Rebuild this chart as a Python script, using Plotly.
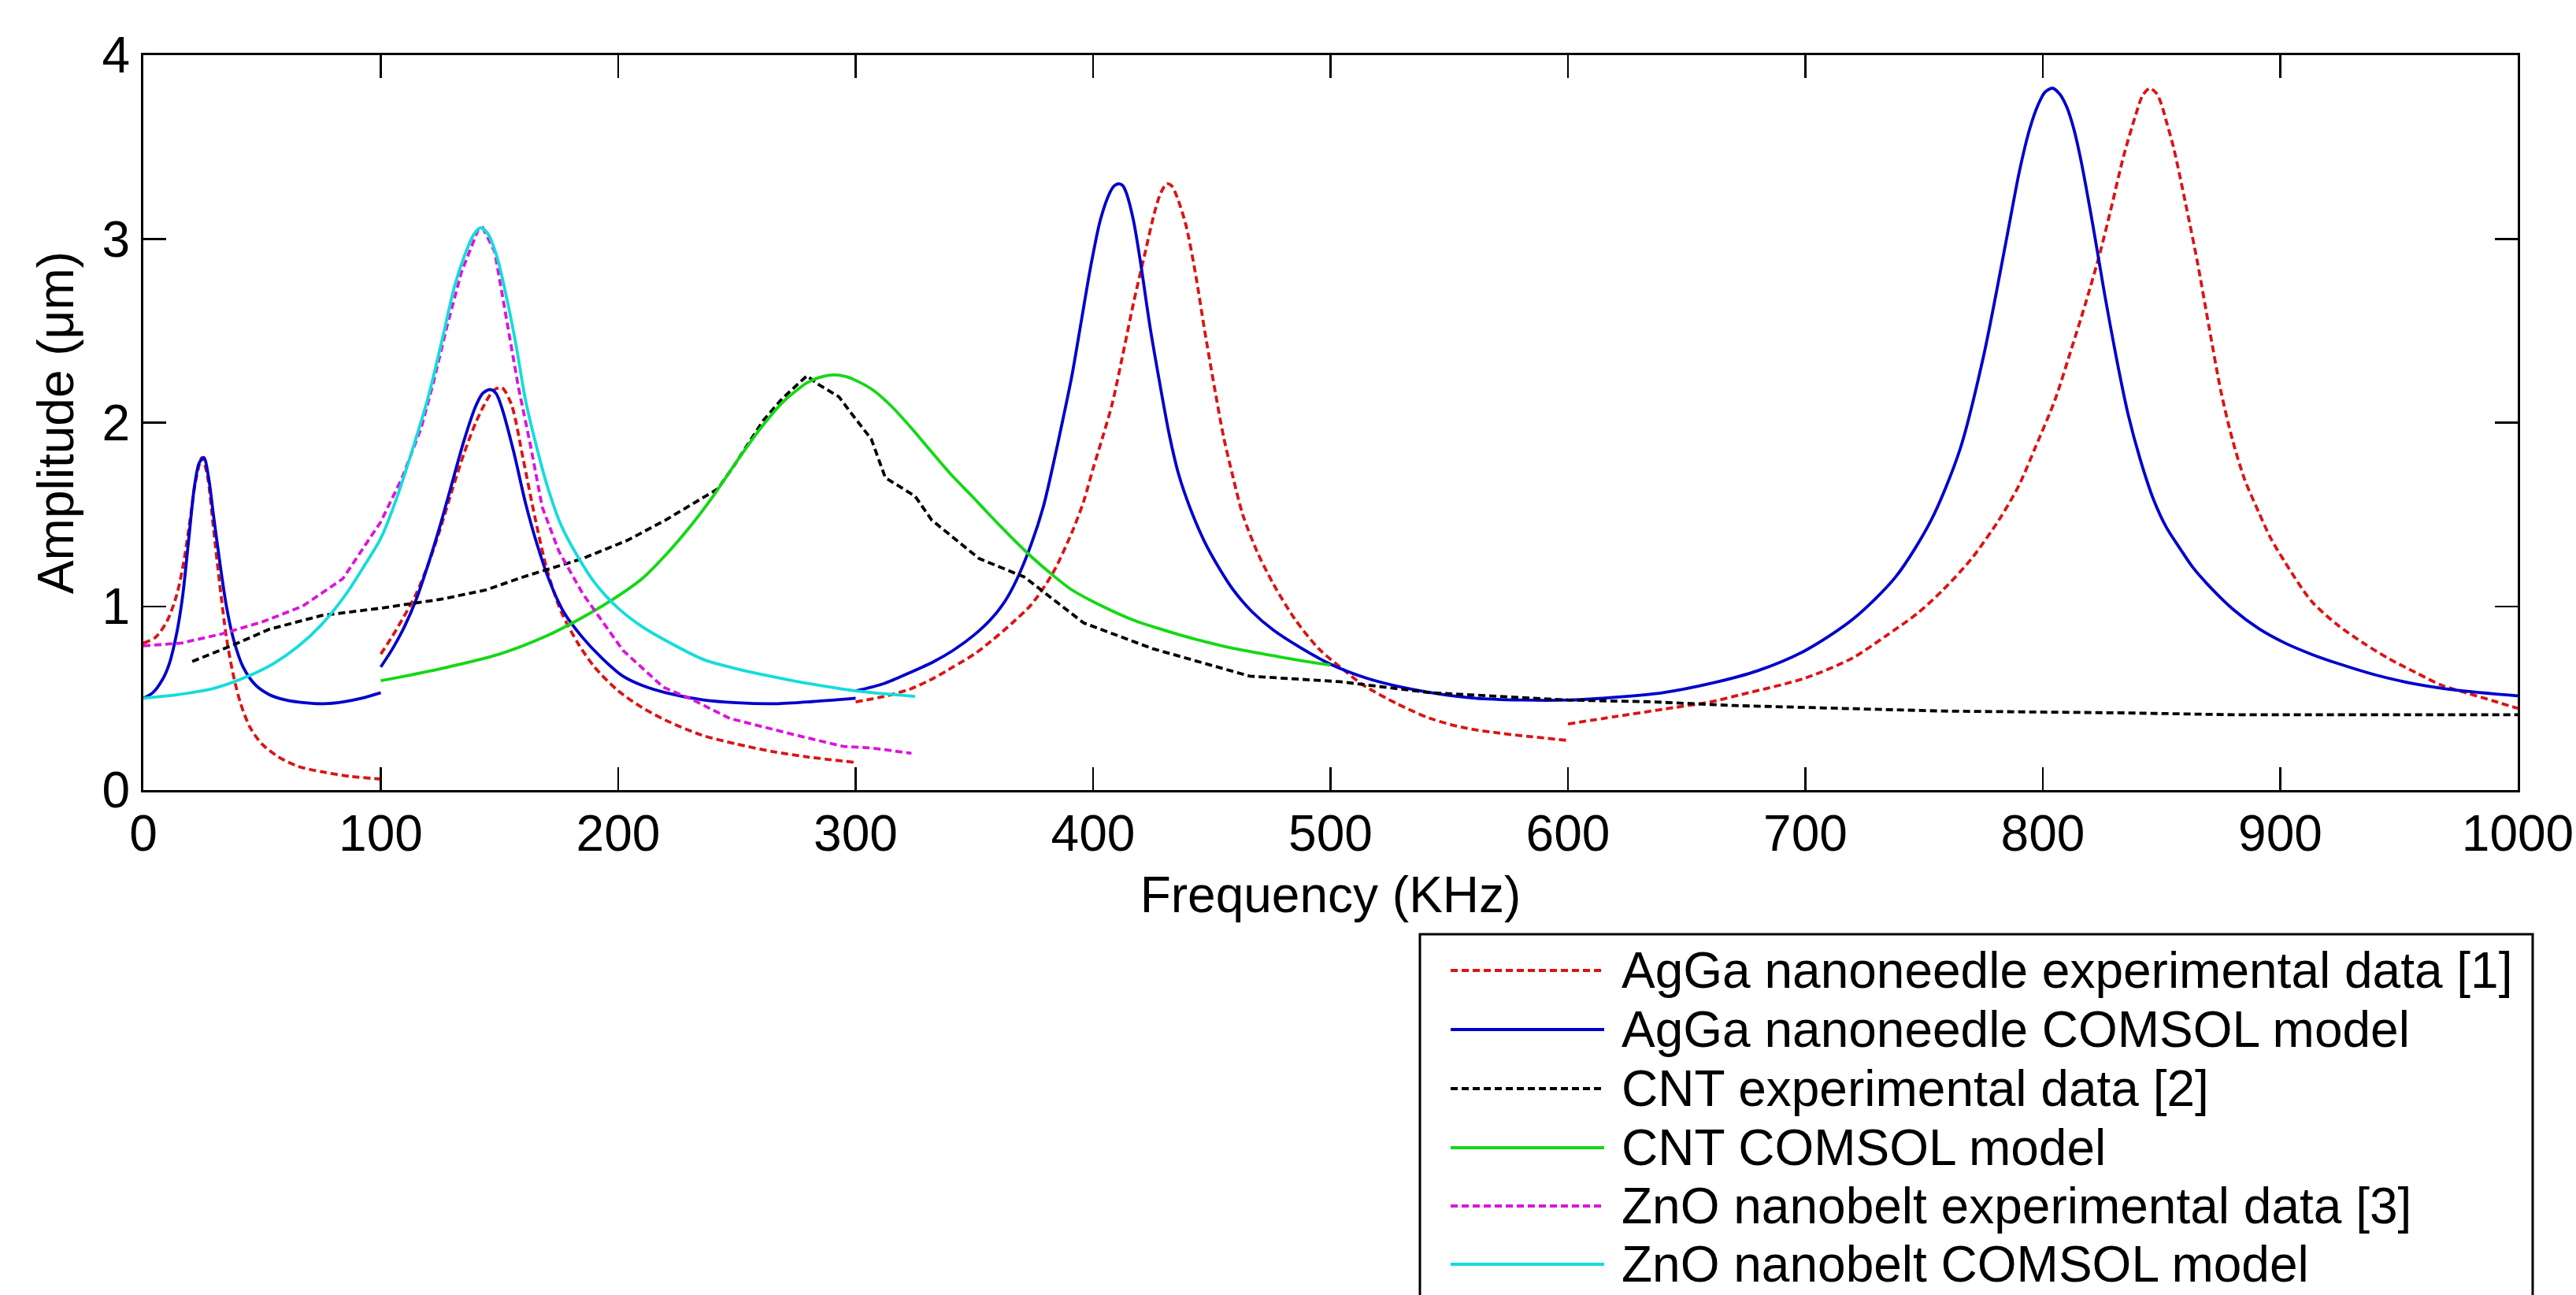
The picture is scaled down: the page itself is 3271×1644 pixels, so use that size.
import plotly.graph_objects as go

# ---------------- data ----------------
series_names = [
    "AgGa nanoneedle experimental data [1]",
    "AgGa nanoneedle COMSOL model",
    "CNT experimental data [2]",
    "CNT COMSOL model",
    "ZnO nanobelt experimental data [3]",
    "ZnO nanobelt COMSOL model",
]
series_colors = ["#dc1414", "#0000cc", "#000000", "#14d814", "#dc14dc", "#14dcdc"]
series_dash = ["9px,5px", "solid", "9px,5px", "solid", "9px,5px", "solid"]

x_ticks = [0, 100, 200, 300, 400, 500, 600, 700, 800, 900, 1000]
y_ticks = [0, 1, 2, 3, 4]

# AgGa nanoneedle experimental data (four measured segments)
agga_exp_f = [0, 5, 10, 14, 17, 20, 22, 24.7, 27, 29.5, 32, 35, 38, 41, 45, 50, 57, 65, 75, 87, 100, None,
              100, 105, 110, 115, 120, 125, 130, 135, 140, 145, 148, 151, 155, 160, 165, 170, 176, 183, 190,
              200, 210, 220, 235, 250, 265, 280, 300, None,
              300, 312, 323, 333, 341, 350, 357, 366, 374, 383, 391, 396, 400, 404, 408, 413, 417, 422, 426,
              428.5, 431, 433, 435, 439, 443, 447, 451, 455, 459, 463, 469, 476, 485, 495, 505, 514, 528, 542,
              556, 571, 585, 600, None,
              600, 620, 640, 660, 673, 700, 720, 734, 747, 758, 770, 782, 790, 797, 805, 812, 818, 824, 829,
              834, 839, 842, 845, 848, 850, 852, 855, 860, 865, 870, 875, 880, 885, 891, 896, 902, 913, 924,
              935, 946, 957, 968, 979, 990, 1000]
agga_exp_a = [0.80, 0.83, 0.92, 1.06, 1.24, 1.50, 1.68, 1.81, 1.71, 1.43, 1.14, 0.83, 0.62, 0.47, 0.34, 0.25,
              0.18, 0.13, 0.10, 0.075, 0.06, None,
              0.74, 0.84, 0.95, 1.07, 1.23, 1.42, 1.63, 1.83, 2.00, 2.13, 2.18, 2.19, 2.10, 1.80, 1.48, 1.20,
              0.97, 0.80, 0.67, 0.54, 0.45, 0.38, 0.30, 0.25, 0.21, 0.18, 0.15, None,
              0.48, 0.51, 0.55, 0.61, 0.67, 0.74, 0.81, 0.91, 1.01, 1.18, 1.40, 1.57, 1.75, 1.92, 2.10, 2.40,
              2.65, 2.93, 3.15, 3.25, 3.30, 3.29, 3.24, 3.08, 2.82, 2.50, 2.20, 1.92, 1.70, 1.50, 1.30, 1.12,
              0.93, 0.77, 0.66, 0.57, 0.47, 0.39, 0.34, 0.31, 0.29, 0.27, None,
              0.36, 0.40, 0.44, 0.48, 0.52, 0.61, 0.72, 0.84, 0.96, 1.09, 1.26, 1.48, 1.66, 1.87, 2.12, 2.40,
              2.65, 2.92, 3.18, 3.45, 3.67, 3.78, 3.82, 3.79, 3.73, 3.64, 3.50, 3.20, 2.88, 2.52, 2.17, 1.90,
              1.69, 1.51, 1.37, 1.24, 1.03, 0.90, 0.80, 0.713, 0.64, 0.57, 0.527, 0.484, 0.445]

# AgGa nanoneedle COMSOL model
agga_mod_f = [0, 4, 8, 11, 14, 16.5, 19, 21.5, 23.5, 25.5, 27.5, 29.5, 32, 35, 38, 42, 47, 53, 60, 68, 76, 84,
              92, 100, None,
              100, 105, 110, 115, 120, 125, 130, 135, 140, 143, 146, 148.5, 151, 156, 161, 166, 171, 177, 185,
              193, 202, 210, 220, 236, 250, 265, 280, 300, None,
              300, 312, 323, 333, 341, 350, 357, 363, 368, 374, 379, 383, 387, 391, 395, 399, 403, 407, 409,
              411, 412.5, 414, 417, 420, 424, 428, 432, 436, 441, 447, 453, 459, 467, 476, 488, 500, 515, 530,
              545, 561, 580, 600, 620, 640, 660, 680, 700, 720, 738, 753, 765, 775, 785, 790, 794.5, 798, 801,
              804, 807, 810, 813, 816, 821, 826, 831, 836, 841, 846.5, 852, 858, 863, 869, 880, 891, 902, 913,
              924, 940, 957, 974, 1000]
agga_mod_a = [0.50, 0.53, 0.60, 0.69, 0.85, 1.05, 1.35, 1.65, 1.78, 1.81, 1.70, 1.50, 1.26, 1.00, 0.82, 0.67,
              0.575, 0.52, 0.49, 0.475, 0.47, 0.48, 0.50, 0.53, None,
              0.67, 0.77, 0.89, 1.04, 1.23, 1.44, 1.67, 1.90, 2.09, 2.16, 2.18, 2.16, 2.08, 1.84, 1.56, 1.33,
              1.14, 0.97, 0.83, 0.72, 0.62, 0.57, 0.53, 0.49, 0.475, 0.47, 0.48, 0.50, None,
              0.54, 0.58, 0.64, 0.70, 0.76, 0.845, 0.93, 1.03, 1.15, 1.34, 1.54, 1.76, 2.00, 2.25, 2.55, 2.85,
              3.10, 3.25, 3.29, 3.30, 3.29, 3.25, 3.10, 2.87, 2.52, 2.22, 1.94, 1.72, 1.53, 1.35, 1.21, 1.09,
              0.97, 0.87, 0.77, 0.685, 0.61, 0.56, 0.525, 0.50, 0.49, 0.49, 0.505, 0.53, 0.58, 0.65, 0.76, 0.93,
              1.16, 1.47, 1.85, 2.36, 3.02, 3.36, 3.60, 3.73, 3.80, 3.82, 3.79, 3.72, 3.60, 3.43, 3.08, 2.70,
              2.35, 2.04, 1.80, 1.585, 1.43, 1.31, 1.215, 1.125, 0.985, 0.878, 0.80, 0.74, 0.69, 0.627, 0.577,
              0.544, 0.513]

# CNT experimental data
cnt_exp_f = [20.6, 37.9, 53, 75, 100, 126, 144.5, 160, 185, 204, 220, 242, 249, 261, 269, 279.5, 284, 293, 297,
             306.6, 312.5, 325, 332, 352, 371, 396, 425, 466, 504, 542, 600, 636, 670, 758, 835, 880, 1000]
cnt_exp_a = [0.70, 0.79, 0.875, 0.95, 0.99, 1.04, 1.09, 1.16, 1.26, 1.36, 1.47, 1.64, 1.77, 2.01, 2.13, 2.255,
             2.21, 2.14, 2.07, 1.91, 1.70, 1.60, 1.47, 1.26, 1.16, 0.91, 0.77, 0.62, 0.59, 0.53, 0.49, 0.48,
             0.46, 0.43, 0.42, 0.41, 0.41]

# CNT COMSOL model
cnt_mod_f = [100, 125, 150, 170, 185, 198, 210, 220, 230, 240, 250, 260, 270, 280, 286, 291, 296, 300, 307, 315,
             323.5, 332, 340, 349, 357, 366, 374, 383, 391, 404, 417, 430, 442, 456, 470, 485, 500]
cnt_mod_a = [0.595, 0.66, 0.74, 0.84, 0.94, 1.04, 1.15, 1.28, 1.43, 1.60, 1.79, 1.97, 2.12, 2.22, 2.25, 2.26,
             2.25, 2.23, 2.18, 2.09, 1.97, 1.84, 1.72, 1.60, 1.49, 1.37, 1.27, 1.17, 1.09, 1.00, 0.925, 0.87,
             0.825, 0.78, 0.745, 0.71, 0.68]

# ZnO nanobelt experimental data
zno_exp_f = [0, 16, 33, 50, 67, 84, 100, 109, 117, 122, 128, 134, 141, 143, 148, 153, 158, 163, 168, 175, 185,
             202, 219, 230, 247, 273, 295, 307, 323.5]
zno_exp_a = [0.785, 0.80, 0.85, 0.915, 1.0, 1.15, 1.46, 1.70, 1.97, 2.21, 2.53, 2.82, 3.05, 3.06, 2.93, 2.55,
             2.19, 1.88, 1.54, 1.30, 1.07, 0.76, 0.56, 0.50, 0.39, 0.305, 0.237, 0.229, 0.20]

# ZnO nanobelt COMSOL model
zno_mod_f = [0, 15, 30, 45, 55, 65, 75, 85, 93, 100, 107, 114, 120, 126, 131, 135, 139, 142, 145, 149, 153, 157,
             161, 165, 170, 176, 183, 190, 200, 210, 222, 236, 250, 264, 280, 300, 325]
zno_mod_a = [0.50, 0.52, 0.555, 0.625, 0.69, 0.78, 0.90, 1.06, 1.22, 1.37, 1.60, 1.88, 2.14, 2.46, 2.74, 2.90,
             3.02, 3.06, 3.03, 2.90, 2.68, 2.42, 2.12, 1.90, 1.66, 1.44, 1.27, 1.13, 0.99, 0.89, 0.80, 0.71,
             0.66, 0.62, 0.58, 0.54, 0.51]

series_x = [agga_exp_f, agga_mod_f, cnt_exp_f, cnt_mod_f, zno_exp_f, zno_mod_f]
series_y = [agga_exp_a, agga_mod_a, cnt_exp_a, cnt_mod_a, zno_exp_a, zno_mod_a]
series_shape = ["spline", "spline", "linear", "spline", "linear", "spline"]

# ---------------- layout geometry ----------------
W, H = 3271, 1644
ML, MR, MT, MB = 182, 74, 70, 641
PW, PH = W - ML - MR, H - MT - MB
FONT = "Arial, 'Liberation Sans', Helvetica, sans-serif"
FS = 64
LW = 3.8


def px_x(p):
    return (p - ML) / PW


def px_y(p):
    return (H - MB - p) / PH


fig = go.Figure()
for i in range(len(series_names)):
    fig.add_trace(go.Scatter(
        x=series_x[i], y=series_y[i], mode="lines", name=series_names[i],
        line=dict(color=series_colors[i], width=LW, dash=series_dash[i],
                  shape=series_shape[i], smoothing=0.8),
        connectgaps=False, showlegend=False, hoverinfo="skip",
    ))

axis_common = dict(
    showgrid=False, zeroline=False, showline=True, linecolor="black", linewidth=3,
    mirror="ticks", ticks="inside", ticklen=29, tickwidth=2.5, tickcolor="black",
    tickfont=dict(family=FONT, size=FS, color="black"),
    title_font=dict(family=FONT, size=FS, color="black"),
)

fig.update_layout(
    width=W, height=H,
    margin=dict(l=ML, r=MR, t=MT, b=MB, autoexpand=False),
    paper_bgcolor="white", plot_bgcolor="white",
    font=dict(family=FONT, size=FS, color="black"),
    showlegend=False,
    xaxis=dict(range=[0, 1000], tickvals=x_ticks, ticktext=[str(v) for v in x_ticks],
               title=dict(text="Frequency (KHz)", standoff=21), ticklabelstandoff=-3, **axis_common),
    yaxis=dict(range=[0, 4], tickvals=y_ticks, ticktext=[str(v) for v in y_ticks],
               title=dict(text="Amplitude (\u03bcm)", standoff=16), ticklabelstandoff=1, **axis_common),
)

# ---------------- legend box drawn in paper space ----------------
box_l, box_r, box_t, box_b = 1803, 3216, 1186, 1720
fig.add_shape(type="rect", xref="paper", yref="paper",
              x0=px_x(box_l), x1=px_x(box_r), y0=px_y(box_t), y1=px_y(box_b),
              line=dict(color="black", width=3), fillcolor="white", layer="above")
row_y = [1232, 1307, 1382, 1457, 1531, 1605]
for i, name in enumerate(series_names):
    yy = px_y(row_y[i])
    fig.add_shape(type="line", xref="paper", yref="paper",
                  x0=px_x(1842), x1=px_x(2037), y0=yy, y1=yy,
                  line=dict(color=series_colors[i], width=LW, dash=series_dash[i]), layer="above")
    fig.add_annotation(xref="paper", yref="paper", x=px_x(2057), y=yy, text=name,
                       showarrow=False, xanchor="left", yanchor="middle",
                       font=dict(family=FONT, size=FS, color="black"))

fig.write_html("out.html", config={"displayModeBar": False, "staticPlot": True},
               post_script="document.body.style.margin='0';document.body.style.overflow='hidden';")
